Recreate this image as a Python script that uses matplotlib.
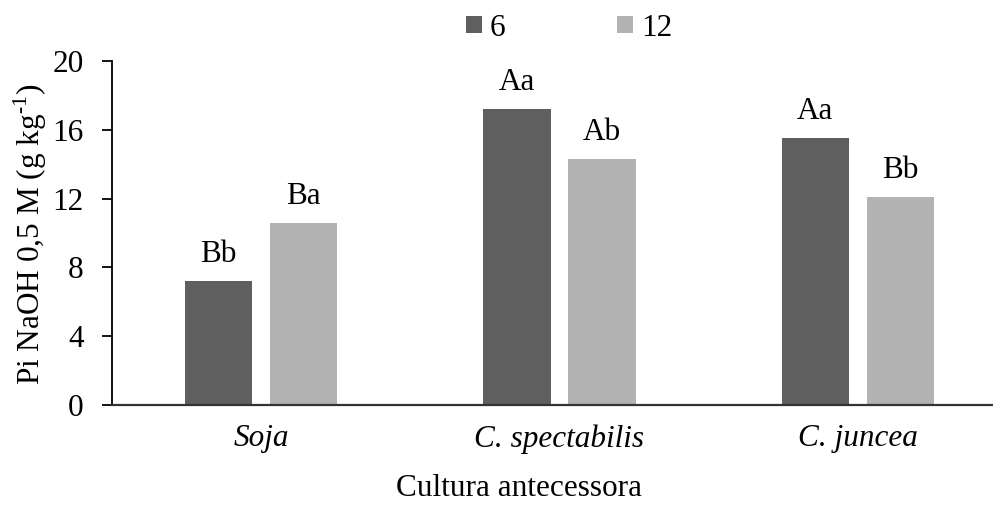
import matplotlib
matplotlib.use("Agg")
import matplotlib.pyplot as plt
import numpy as np

plt.rcParams['font.family'] = ['Liberation Serif', 'DejaVu Serif']
plt.rcParams['mathtext.fontset'] = 'custom'
plt.rcParams['mathtext.rm'] = 'Liberation Serif'

# data
categories = ["Soja", "C. spectabilis", "C. juncea"]
series_names = ["6", "12"]
values_6 = [7.2, 17.2, 15.5]
values_12 = [10.6, 14.3, 12.1]
letters_6 = ["Bb", "Aa", "Aa"]
letters_12 = ["Ba", "Ab", "Bb"]
yticks = [0, 4, 8, 12, 16, 20]

colors = ["#5f5f5f", "#b3b3b3"]
fs = 22.5

W, H = 993, 508
fig = plt.figure(figsize=(W / 100, H / 100), dpi=100)
# plot area runs past the right edge, as in the reference
ax = fig.add_axes([112 / W, 103 / H, 895 / W, 344 / H])

x = np.arange(len(categories))
bw = 0.225
off = 0.1425

b1 = ax.bar(x - off, values_6, bw, color=colors[0], label=series_names[0])
b2 = ax.bar(x + off, values_12, bw, color=colors[1], label=series_names[1])

for bars, labs in [(b1, letters_6), (b2, letters_12)]:
    for rect, lab in zip(bars, labs):
        ax.annotate(lab, (rect.get_x() + rect.get_width() / 2, rect.get_height()),
                    xytext=(0, 13.7), textcoords="offset points",
                    ha="center", va="baseline", fontsize=fs)

ax.set_xlim(-0.5, 2.5)
ax.set_ylim(0, 20)
ax.set_yticks(yticks)
ax.set_yticklabels([str(t) for t in yticks], fontsize=fs)
ax.set_xticks(x)
ax.set_xticklabels(categories, fontsize=fs, style="italic")
ax.tick_params(axis="x", length=0, pad=14)
ax.tick_params(axis="y", length=7, width=1.3, pad=13.5, direction="out")

ax.spines["top"].set_visible(False)
ax.spines["right"].set_visible(False)
ax.spines["left"].set_linewidth(1.3)
ax.spines["bottom"].set_linewidth(1.6)
ax.spines["bottom"].set_color("#333333")

fig.text(30 / W, 1 - 234 / H, r"Pi NaOH 0,5 M (g kg$^{\text{-1}}$)", rotation=90,
         ha="center", va="center", fontsize=fs)
fig.text(519 / W, 1 - 489 / H, "Cultura antecessora", ha="center", va="center",
         fontsize=fs)

ax.legend(loc="center", bbox_to_anchor=(569 / W, 1 - 28 / H), bbox_transform=fig.transFigure,
          ncol=2, frameon=False, fontsize=fs, handlelength=0.5, handleheight=0.5,
          handletextpad=0.25, columnspacing=3.6)

fig.savefig("out.png", dpi=100)
